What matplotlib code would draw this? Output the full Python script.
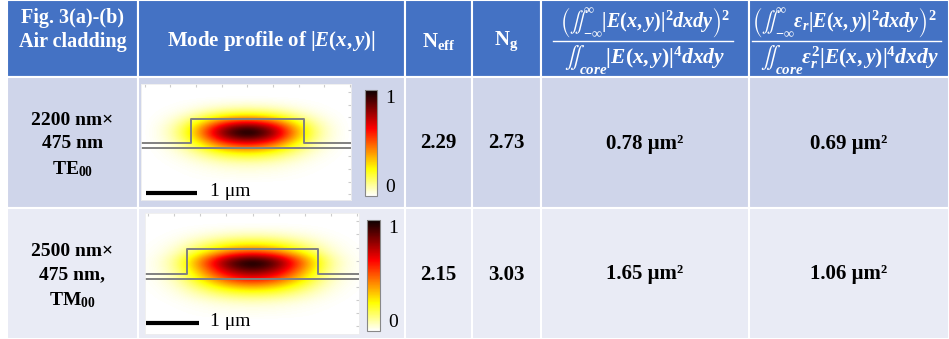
import numpy as np
import matplotlib
matplotlib.use('Agg')
import matplotlib.pyplot as plt
from matplotlib.patches import Rectangle

plt.rcParams['font.family'] = ['Liberation Serif', 'DejaVu Serif']
plt.rcParams['mathtext.fontset'] = 'custom'
plt.rcParams['mathtext.rm'] = 'Liberation Serif:bold'
plt.rcParams['mathtext.it'] = 'Liberation Serif:italic:bold'
plt.rcParams['mathtext.bf'] = 'Liberation Serif:bold'
plt.rcParams['mathtext.fallback'] = 'stix'

#########################
#  table content
#########################
head_1 = 'Fig. 3(a)-(b)\nAir cladding'
head_2 = r'Mode profile of $|E(x,y)|$'
head_3 = r'N$_{\mathrm{eff}}$'
head_4 = r'N$_{\mathrm{g}}$'
num_a = r'$\left(\iint_{-\infty}^{\infty}|E(x,y)|^2dxdy\right)^2$'
den_a = r'$\iint_{core}|E(x,y)|^4dxdy$'
num_b = r'$\left(\iint_{-\infty}^{\infty}\varepsilon_r|E(x,y)|^2dxdy\right)^2$'
den_b = r'$\iint_{core}\varepsilon_r^2|E(x,y)|^4dxdy$'

row_labels = ['2200 nm×\n475 nm\nTE$_{00}$', '2500 nm×\n475 nm,\nTM$_{00}$']
n_eff = ['2.29', '2.15']
n_g = ['2.73', '3.03']
a_eff = ['0.78', '1.65']
a_eff_eps = ['0.69', '1.06']

# waveguide core width (um), height 475 nm
core_w = [2.2, 2.5]
core_h = 0.475

# mode profile |E|: horizontal cut (x=-2..2 um, step .25)
hx_te = [0.0, 0.02, 0.07, 0.18, 0.36, 0.58, 0.80, 0.94, 1.0, 0.94, 0.80, 0.58, 0.36, 0.18, 0.07, 0.02, 0.0]
hx_tm = [0.01, 0.04, 0.11, 0.25, 0.44, 0.64, 0.83, 0.95, 1.0, 0.95, 0.83, 0.64, 0.44, 0.25, 0.11, 0.04, 0.01]
# vertical cut (y=1.1..-1.1 um, step .1, 0 = core bottom)
vy_te = [0.0, 0.0, 0.0, 0.02, 0.06, 0.16, 0.35, 0.62, 0.88, 1.0, 0.90, 0.68, 0.46, 0.28, 0.16, 0.08, 0.04, 0.02, 0.01, 0.0, 0.0, 0.0, 0.0]
vy_tm = [0.0, 0.0, 0.01, 0.04, 0.10, 0.21, 0.36, 0.55, 0.85, 1.0, 0.92, 0.78, 0.62, 0.46, 0.30, 0.18, 0.09, 0.04, 0.02, 0.01, 0.0, 0.0, 0.0]

col_edges = [7, 138, 405, 472, 541, 749, 949]
row_edges = [0, 77, 208, 339]
head_col = '#4472C4'
row_cols = ['#CFD5EA', '#E9EBF5']

W, H = 949, 339
fig = plt.figure(figsize=(W / 100, H / 100), dpi=100)
ax = fig.add_axes([0, 0, 1, 1])
ax.set_xlim(0, W)
ax.set_ylim(H, 0)
ax.axis('off')

for r in range(3):
    for c in range(6):
        fc = head_col if r == 0 else row_cols[r - 1]
        ax.add_patch(Rectangle((col_edges[c], row_edges[r]), col_edges[c + 1] - col_edges[c],
                               row_edges[r + 1] - row_edges[r], facecolor=fc, edgecolor='white', lw=1.5))

def cx(c):
    return (col_edges[c] + col_edges[c + 1]) / 2

hkw = dict(color='white', fontweight='bold', ha='center', va='center')
ax.text(cx(0), 30, head_1, fontsize=14.5, linespacing=1.2, **hkw)
ax.text(cx(1), 41, head_2, fontsize=15, **hkw)
ax.text(cx(2), 41, head_3, fontsize=15, **hkw)
ax.text(cx(3), 41, head_4, fontsize=15, **hkw)
ax.text(cx(4), 22, num_a, color='white', fontsize=14.5, ha='center', va='center')
ax.plot([553, 733], [41, 41], color='white', lw=1)
ax.text(cx(4), 60, den_a, color='white', fontsize=15.5, ha='center', va='center')
ax.text(752, 22, num_b, color='white', fontsize=14.5, ha='left', va='center', clip_on=True)
ax.plot([752, 941], [41, 41], color='white', lw=1)
ax.text(cx(5), 60, den_b, color='white', fontsize=15.5, ha='center', va='center')

for i in range(2):
    yc = (row_edges[i + 1] + row_edges[i + 2]) / 2 + 1
    ax.text(cx(0), yc + 2, row_labels[i], fontsize=14, fontweight='bold', ha='center', va='center', linespacing=1.45)
    ax.text(cx(2), yc, n_eff[i], fontsize=15, fontweight='bold', ha='center', va='center')
    ax.text(cx(3), yc, n_g[i], fontsize=15, fontweight='bold', ha='center', va='center')
    ax.text(cx(4), yc, a_eff[i] + ' μm²', fontsize=15, fontweight='bold', ha='center', va='center')
    ax.text(cx(5), yc, a_eff_eps[i] + ' μm²', fontsize=15, fontweight='bold', ha='center', va='center')

#########################
#  mode maps
#########################
def fr(x0, y0, x1, y1):
    return [x0 / W, 1 - y1 / H, (x1 - x0) / W, (y1 - y0) / H]

maps = [
    dict(img=(141, 84, 351, 200), cb=(365, 90, 377, 196), hx=hx_te, vy=vy_te,
         xl=(-2.07, 2.02), yl=(-1.11, 1.15), bar=(-1.97, -0.97), txt=-0.73),
    dict(img=(145, 213, 359, 334), cb=(367, 220, 380, 331), hx=hx_tm, vy=vy_tm,
         xl=(-2.05, 2.03), yl=(-1.15, 1.16), bar=(-2.03, -0.94), txt=-0.81),
]
xs = np.linspace(-2, 2, 17)
ys = np.linspace(1.1, -1.1, 23)

for i, m in enumerate(maps):
    field = np.outer(m['vy'], m['hx'])
    iax = fig.add_axes(fr(*m['img']))
    im = iax.imshow(field, cmap='hot_r', vmin=0, vmax=1, interpolation='bicubic',
                    extent=[xs[0] - 0.125, xs[-1] + 0.125, ys[-1] - 0.05, ys[0] + 0.05], aspect='auto')
    w = core_w[i] / 2
    x0, x1 = m['xl']
    iax.plot([x0 - 1, -w, -w, w, w, x1 + 1], [0, 0, core_h, core_h, 0, 0], color='#808080', lw=1.4)
    iax.plot([x0 - 1, x1 + 1], [-0.1, -0.1], color='#808080', lw=1.4)
    bx, by = m['bar']
    iax.plot([bx, bx + 1], [by, by], color='black', lw=3, solid_capstyle='butt')
    iax.text(m['txt'], by + 0.02, '1 μm', fontsize=14, va='center', ha='left')
    iax.set_xlim(x0, x1)
    iax.set_ylim(*m['yl'])
    iax.set_xticks(np.arange(-2, 2.01, 0.5))
    iax.set_yticks(np.arange(-1, 1.01, 0.25))
    iax.tick_params(direction='in', length=2.5, color='#cccccc', top=True, right=True,
                    bottom=False, left=False, labelbottom=False, labelleft=False)
    for s in iax.spines.values():
        s.set_color('#eeeeee')
        s.set_linewidth(0.6)

    cax = fig.add_axes(fr(*m['cb']))
    cb = fig.colorbar(im, cax=cax, ticks=[0, 1])
    cb.outline.set_edgecolor('#888888')
    cb.outline.set_linewidth(0.8)
    cax.tick_params(length=0, pad=6, labelsize=14)
    cax.set_yticklabels(['0', '1'])
    labs = cax.get_yticklabels()
    labs[0].set_va('bottom')
    labs[1].set_va('top')

plt.savefig('out.png', dpi=100)
